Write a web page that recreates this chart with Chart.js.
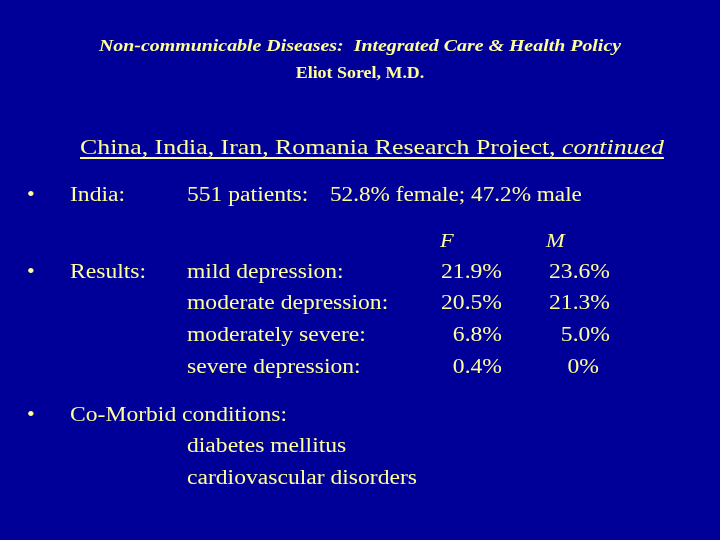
<!DOCTYPE html>
<html><head><meta charset="utf-8">
<script src="https://cdn.jsdelivr.net/npm/chart.js@4"></script>
<style>html,body{margin:0;padding:0;background:#000098;}#w{width:720px;height:540px;}</style>
</head><body><div id="w"><canvas id="c"></canvas></div>
<script>
const categories = ["mild depression:", "moderate depression:", "moderately severe:", "severe depression:"];
const femaleValues = ["21.9%", "20.5%", "6.8%", "0.4%"];
const maleValues = ["23.6%", "21.3%", "5.0%", "0%"];
const comorbid = ["diabetes mellitus", "cardiovascular disorders"];

const Y = '#FFFF99';
const slide = {
  id: 'slide',
  afterDraw(chart) {
    const c = chart.ctx;
    c.save();
    c.fillStyle = Y; c.strokeStyle = Y;
    c.textBaseline = 'alphabetic';
    const f = (s) => s + ' "Liberation Serif", "Times New Roman", serif';
    const t = (txt, x, y, sx) => { c.save(); c.translate(x, y); c.scale(sx || 1.18, 1); c.fillText(txt, 0, 0); const w = c.measureText(txt).width * (sx || 1.18); c.restore(); return w; };
    c.textAlign = 'center';
    c.font = f('italic bold 17px');
    t('Non-communicable Diseases:  Integrated Care & Health Policy', 360, 51, 1.17);
    c.font = f('bold 16px');
    t('Eliot Sorel, M.D.', 360, 78, 1.12);
    c.textAlign = 'left';
    c.font = f('21px');
    const h1 = 'China, India, Iran, Romania Research Project, ';
    const w1 = t(h1, 80, 154, 1.23);
    c.font = f('italic 21px');
    const w2 = t('continued', 80 + w1, 154, 1.23);
    c.fillRect(80, 157, w1 + w2, 2);
    c.font = f('20px');
    const bullet = (y) => { c.font = f('22px'); c.fillText('•', 27, y); c.font = f('20px'); };
    bullet(201); t('India:', 70, 201);
    t('551 patients:', 187, 201);
    t('52.8% female; 47.2% male', 330, 201, 1.16);
    c.font = f('italic 19px');
    t('F', 440, 247);
    t('M', 546, 247);
    c.font = f('20px');
    bullet(278); t('Results:', 70, 278);
    const rows = [278, 309, 341, 373];
    categories.forEach((s, i) => {
      c.textAlign = 'left'; t(s, 187, rows[i]);
      c.textAlign = 'right';
      t(femaleValues[i], 502, rows[i]);
      t(maleValues[i], i === 3 ? 599 : 610, rows[i]);
    });
    c.textAlign = 'left';
    bullet(421); t('Co-Morbid conditions:', 70, 421);
    comorbid.forEach((s, i) => t(s, 187, 452 + i * 32));
    c.restore();
  }
};

new Chart(document.getElementById('c'), {
  type: 'bar',
  data: { labels: categories, datasets: [{ data: [], backgroundColor: Y }] },
  options: {
    responsive: true, maintainAspectRatio: false, animation: false,
    layout: { padding: 0 },
    plugins: { legend: { display: false }, tooltip: { enabled: false } },
    scales: { x: { display: false }, y: { display: false } }
  },
  plugins: [slide]
});
</script></body></html>
